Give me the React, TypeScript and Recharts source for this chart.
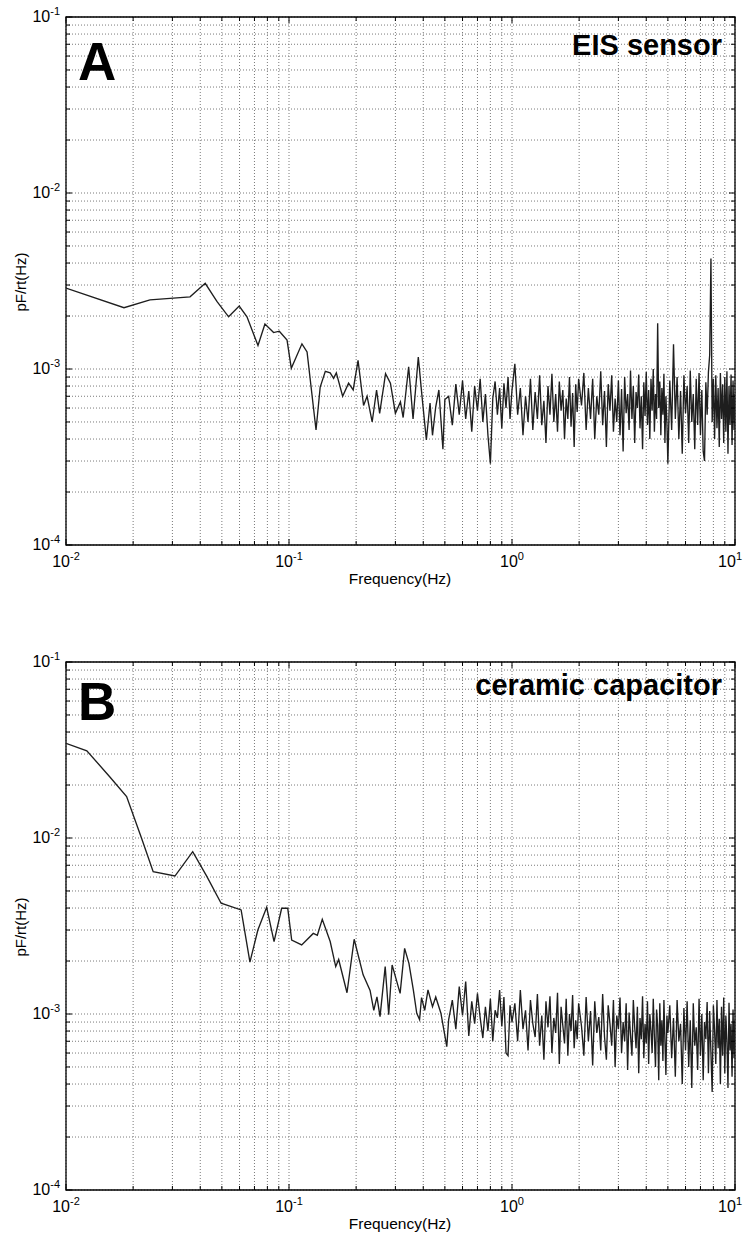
import { CartesianGrid, Line, LineChart, ReferenceArea, XAxis, YAxis } from 'recharts';

// all spectrum values are in units of 1e-5 pF/rt(Hz)
const UNIT = 1e-5;

const xTicks = [
  0.01, 0.02, 0.03, 0.04, 0.05, 0.06, 0.07, 0.08, 0.09,
  0.1, 0.2, 0.3, 0.4, 0.5, 0.6, 0.7, 0.8, 0.9,
  1, 2, 3, 4, 5, 6, 7, 8, 9, 10,
];
const yTicks = [
  0.0001, 0.0002, 0.0003, 0.0004, 0.0005, 0.0006, 0.0007, 0.0008, 0.0009,
  0.001, 0.002, 0.003, 0.004, 0.005, 0.006, 0.007, 0.008, 0.009,
  0.01, 0.02, 0.03, 0.04, 0.05, 0.06, 0.07, 0.08, 0.09, 0.1,
];

// panel A, EIS sensor, below 0.5 Hz
const freqLowA = [
  0.01, 0.0182, 0.0238, 0.0293, 0.036, 0.0421, 0.0475, 0.0536, 0.0598, 0.0648,
  0.0726, 0.078, 0.0853, 0.0905, 0.098, 0.1024, 0.1143, 0.1205, 0.1322, 0.138,
  0.1455, 0.153, 0.1585, 0.163, 0.174, 0.185, 0.194, 0.204, 0.216, 0.224,
  0.236, 0.247, 0.255, 0.271, 0.285, 0.3, 0.316, 0.325, 0.344, 0.36,
  0.38, 0.394, 0.413, 0.429, 0.44, 0.455, 0.47, 0.49, 0.5,
];
const valLowA = [
  288, 223, 247, 252, 257, 307, 242, 198, 228, 198,
  136, 180, 161, 164, 146, 101, 139, 125, 45, 79,
  97, 95, 88.5, 95, 70, 83, 76, 112, 62, 70,
  50, 76, 56, 94, 83, 56, 65, 53, 103, 52,
  117, 72, 39.5, 64, 42, 61, 76, 35, 67,
];

// panel B, ceramic capacitor, below 0.52 Hz
const freqLowB = [
  0.01, 0.0124, 0.0157, 0.0187, 0.0218, 0.0246, 0.0308, 0.037, 0.0428, 0.0496,
  0.061, 0.0668, 0.0725, 0.0794, 0.0857, 0.0927, 0.0987, 0.1028, 0.114, 0.1285,
  0.134, 0.141, 0.153, 0.162, 0.167, 0.182, 0.196, 0.215, 0.231, 0.24,
  0.248, 0.256, 0.27, 0.28, 0.29, 0.315, 0.33, 0.345, 0.361, 0.374,
  0.385, 0.393, 0.406, 0.42, 0.44, 0.455, 0.48, 0.51,
];
const valLowB = [
  3450, 3130, 2230, 1720, 1000, 644, 608, 836, 605, 426,
  390, 197, 300, 404, 258, 399, 399, 263, 247, 287,
  280, 345, 258, 186, 204, 132, 266, 167, 136, 105,
  125, 96.6, 186, 99, 190, 131, 236, 194, 137, 101,
  93, 124, 105, 137, 110, 125, 101, 65.2,
];

// noisy part, same frequency bins for both panels
const freqDense = [
  0.52, 0.54, 0.56, 0.58, 0.6, 0.62, 0.64, 0.66, 0.68, 0.7, 0.72, 0.74, 0.76,
  0.78, 0.8, 0.82, 0.84, 0.86, 0.88, 0.9, 0.92, 0.94, 0.96, 0.98, 1,
  1.03, 1.06, 1.09, 1.12, 1.15, 1.18, 1.21, 1.24, 1.27, 1.3, 1.33, 1.36, 1.39,
  1.42, 1.45, 1.48, 1.51, 1.54, 1.57, 1.6, 1.63, 1.66, 1.69, 1.72, 1.75, 1.78,
  1.81, 1.84, 1.87, 1.9, 1.93, 1.96, 1.99,
  2.05, 2.1, 2.15, 2.2, 2.25, 2.3, 2.35, 2.4, 2.45, 2.5, 2.55, 2.6, 2.65, 2.7,
  2.75, 2.8, 2.85, 2.9, 2.95, 3,
  3.05, 3.1, 3.15, 3.2, 3.25, 3.3, 3.35, 3.4, 3.45, 3.5, 3.55, 3.6, 3.65, 3.7,
  3.75, 3.8, 3.85, 3.9, 3.95, 4,
  4.05, 4.1, 4.15, 4.2, 4.25, 4.3, 4.35, 4.4, 4.45, 4.5, 4.55, 4.6, 4.65, 4.7,
  4.75, 4.8, 4.85, 4.9, 4.95, 5,
  5.1, 5.2, 5.3, 5.4, 5.5, 5.6, 5.7, 5.8, 5.9, 6,
  6.1, 6.2, 6.3, 6.4, 6.5, 6.6, 6.7, 6.8, 6.9, 7,
  7.1, 7.2, 7.3, 7.4, 7.5, 7.6, 7.7, 7.8, 7.9, 8,
  8.1, 8.2, 8.3, 8.4, 8.5, 8.6, 8.7, 8.8, 8.9, 9,
  9.1, 9.2, 9.3, 9.4, 9.5, 9.6, 9.7, 9.8, 9.9, 10,
];
const valDenseA = [
  70, 48, 82, 55, 86, 52, 75, 44, 80, 58, 88, 50, 72, 42, 29, 68, 85, 55, 78, 46, 83, 60, 90, 52, 76,
  107, 55, 78, 42, 70, 50, 88, 45, 74, 52, 92, 48, 66, 38, 80, 55, 94, 50, 72, 44, 85, 58, 76, 40, 68,
  52, 90, 47, 73, 36, 82, 57, 88,
  62, 95, 45, 78, 52, 88, 40, 70, 55, 97, 48, 75, 36, 82, 58, 92, 44, 68, 50, 86,
  42, 77, 34, 90, 56, 72, 45, 98, 52, 80, 38, 74, 60, 93, 46, 70, 35, 84, 54, 96,
  48, 76, 40, 88, 58, 100, 44, 72, 52, 182, 60, 85, 42, 78, 55, 94, 38, 70, 50, 29,
  86, 45, 138, 52, 90, 40, 75, 33, 92, 56,
  80, 38, 98, 50, 72, 35, 88, 48, 95, 42,
  76, 34, 30, 84, 55, 96, 120, 425, 50, 88,
  40, 92, 46, 78, 36, 95, 52, 82, 38, 90,
  44, 97, 33, 80, 48, 93, 37, 86, 45, 72,
];
const valDenseB = [
  93, 120, 82, 143, 98, 153, 75, 118, 88, 131, 95, 73, 110, 80, 122, 70, 105, 95, 137, 85, 125, 60, 58, 112, 90,
  115, 70, 137, 82, 105, 62, 120, 88, 74, 130, 66, 98, 55, 118, 84, 126, 60, 95, 78, 132, 52, 110, 86, 68, 122,
  58, 100, 80, 128, 64, 92, 72, 115,
  85, 58, 125, 70, 104, 51, 118, 78, 96, 62, 130, 74, 55, 112, 88, 66, 120, 50, 98, 82,
  124, 60, 90, 70, 115, 48, 102, 76, 58, 120, 84, 64, 110, 46, 95, 72, 126, 56, 88, 68,
  118, 52, 100, 80, 60, 122, 74, 50, 106, 86, 42, 115, 66, 92, 54, 120, 70, 45, 98, 78,
  112, 56, 95, 44, 120, 70, 88, 40, 108, 62,
  118, 50, 92, 38, 115, 66, 84, 48, 122, 58,
  100, 42, 90, 72, 117, 46, 104, 60, 36, 112,
  80, 52, 120, 64, 94, 40, 110, 58, 124, 46,
  98, 70, 38, 116, 62, 88, 44, 106, 56, 92,
];

const toRows = (fLow: number[], vLow: number[], vDense: number[]) => [
  ...fLow.map((f, i) => ({ f, v: vLow[i] * UNIT })),
  ...freqDense.map((f, i) => ({ f, v: vDense[i] * UNIT })),
];

const dataA = toRows(freqLowA, valLowA, valDenseA);
const dataB = toRows(freqLowB, valLowB, valDenseB);

const W = 743;
const H = 589;
const PLOT_W = 669;
const PLOT_H = 528;
const FONT = '"Liberation Sans", Arial, Helvetica, sans-serif';

const decadeExp = (v: number) => {
  const e = Math.log10(v);
  const r = Math.round(e);
  return Math.abs(e - r) < 1e-9 ? r : null;
};

function XTick({ x, y, payload }: any) {
  const e = decadeExp(payload.value);
  const len = e === null ? 4 : 6;
  // the last label sits at the page edge, keep it inside
  const last = e === 1;
  return (
    <g>
      <line x1={x} x2={x} y1={y} y2={y - len} stroke="#000" />
      <line x1={x} x2={x} y1={y - PLOT_H} y2={y - PLOT_H + len} stroke="#000" />
      {e !== null && (
        <text
          x={last ? W - 1 : x}
          y={y + 22}
          textAnchor={last ? 'end' : 'middle'}
          fontSize={16}
          fill="#000"
          fontFamily={FONT}
        >
          10<tspan dy={-7} fontSize={11}>{e}</tspan>
        </text>
      )}
    </g>
  );
}

function YTick({ x, y, payload }: any) {
  const e = decadeExp(payload.value);
  const len = e === null ? 4 : 6;
  return (
    <g>
      <line x1={x} x2={x + len} y1={y} y2={y} stroke="#000" />
      <line x1={x + PLOT_W} x2={x + PLOT_W - len} y1={y} y2={y} stroke="#000" />
      {e !== null && (
        <text x={x - 6} y={y + 5} textAnchor="end" fontSize={16} fill="#000" fontFamily={FONT}>
          10<tspan dy={-7} fontSize={11}>{e}</tspan>
        </text>
      )}
    </g>
  );
}

type PanelProps = {
  top: number;
  data: { f: number; v: number }[];
  letter: string;
  letterY: number;
  title: string;
  titleY: number;
};

function Panel({ top, data, letter, letterY, title, titleY }: PanelProps) {
  return (
    <div style={{ position: 'absolute', left: 0, top, width: W, height: H }}>
      <LineChart width={W} height={H} data={data} margin={{ top: 17, right: 8, bottom: 0, left: 0 }}>
        <CartesianGrid stroke="#7a7a7a" strokeDasharray="1 2" />
        <XAxis
          dataKey="f"
          type="number"
          scale="log"
          domain={[0.01, 10]}
          allowDataOverflow
          ticks={xTicks}
          interval={0}
          height={H - 17 - PLOT_H}
          tickSize={0}
          tickMargin={0}
          axisLine={false}
          tickLine={false}
          tick={<XTick />}
        />
        <YAxis
          type="number"
          scale="log"
          domain={[0.0001, 0.1]}
          allowDataOverflow
          ticks={yTicks}
          interval={0}
          width={66}
          tickSize={0}
          tickMargin={0}
          axisLine={false}
          tickLine={false}
          tick={<YTick />}
        />
        <ReferenceArea x1={0.01} x2={10} y1={0.0001} y2={0.1} fill="none" stroke="#000" strokeWidth={1.3} />
        <Line
          type="linear"
          dataKey="v"
          stroke="#1e1e1e"
          strokeWidth={1.35}
          dot={false}
          isAnimationActive={false}
        />
      </LineChart>
      <svg width={W} height={H} style={{ position: 'absolute', left: 0, top: 0, pointerEvents: 'none' }}>
        <text x={78} y={letterY} fontSize={53} fontWeight="bold" fontFamily={FONT} fill="#000">
          {letter}
        </text>
        <text x={722} y={titleY} textAnchor="end" fontSize={29} fontWeight="bold" fontFamily={FONT} fill="#000">
          {title}
        </text>
        <text
          transform="translate(26,282) rotate(-90)"
          textAnchor="middle"
          fontSize={15}
          fontFamily={FONT}
          fill="#000"
        >
          pF/rt(Hz)
        </text>
        <text x={400} y={584} textAnchor="middle" fontSize={15.5} fontFamily={FONT} fill="#000">
          Frequency(Hz)
        </text>
      </svg>
    </div>
  );
}

export default function App() {
  return (
    <div style={{ position: 'absolute', left: 0, top: 0, width: W, height: 1234, background: '#fff', fontFamily: FONT }}>
      <Panel top={0} data={dataA} letter="A" letterY={80} title="EIS sensor" titleY={55} />
      <Panel top={645} data={dataB} letter="B" letterY={75} title="ceramic capacitor" titleY={50} />
    </div>
  );
}
